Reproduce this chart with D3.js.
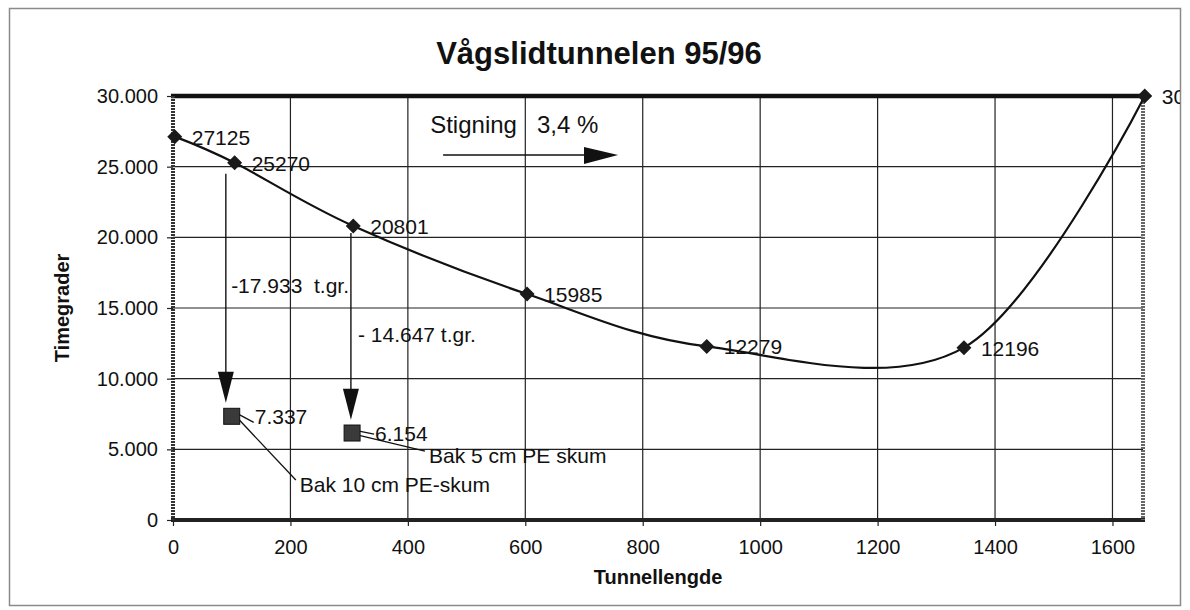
<!DOCTYPE html>
<html>
<head>
<meta charset="utf-8">
<script src="https://cdnjs.cloudflare.com/ajax/libs/d3/7.8.5/d3.min.js"></script>
<style>
  body { margin: 0; background: #fff; }
  text { font-family: "Liberation Sans", Arial, sans-serif; fill: #111; }
</style>
</head>
<body>
<div id="chart"></div>
<script>
// measured points along the tunnel
const distance = [3, 105, 307, 603, 909, 1347, 1655];
const degreeHours = [27125, 25270, 20801, 15985, 12279, 12196, 30000];

// points behind PE foam insulation
const insulatedDistance = [100, 305];
const insulatedHours = [7337, 6154];
const insulationLabels = ["Bak 10 cm PE-skum", "Bak 5 cm PE skum"];
const insulationLabelAt = [[216, 1980], [436, 4030]];

// reduction arrows
const reductionX = [90, 303];
const reductionFrom = [24500, 20300];
const reductionTo = [8300, 7100];
const reductionLabels = ["-17.933  t.gr.", "- 14.647 t.gr."];
const reductionLabelAt = [[99, 16070], [315, 12600]];

const xTicks = [0, 200, 400, 600, 800, 1000, 1200, 1400, 1600];
const yTicks = [0, 5000, 10000, 15000, 20000, 25000, 30000];

const W = 1190, H = 610;
const M = { left: 173, right: 1143, top: 96, bottom: 520 };

const nb = d3.formatLocale({ decimal: ",", thousands: ".", grouping: [3], currency: ["", " kr"] });
const fmt = nb.format(",");

const svg = d3.select('#chart').append('svg')
  .attr('width', W).attr('height', H);

svg.append('clipPath').attr('id', 'frameclip')
  .append('rect').attr('x', 0).attr('y', 0).attr('width', 1180).attr('height', H);

// outer frame
svg.append('rect')
  .attr('x', 9.5).attr('y', 8.5).attr('width', 1171).attr('height', 597)
  .attr('fill', 'none').attr('stroke', '#8a8a8a').attr('stroke-width', 1.5);

const x = d3.scaleLinear().domain([0, 1652]).range([M.left, M.right]);
const y = d3.scaleLinear().domain([0, 30000]).range([M.bottom, M.top]);

// gridlines
svg.append('g').selectAll('line').data(xTicks.slice(1)).enter().append('line')
  .attr('x1', d => x(d)).attr('x2', d => x(d))
  .attr('y1', M.top).attr('y2', M.bottom)
  .attr('stroke', '#222').attr('stroke-width', 1.2);
svg.append('g').selectAll('line').data(yTicks.slice(1, -1)).enter().append('line')
  .attr('x1', M.left).attr('x2', M.right)
  .attr('y1', d => y(d)).attr('y2', d => y(d))
  .attr('stroke', '#222').attr('stroke-width', 1.2);

// axes
const yAxis = svg.append('g')
  .attr('transform', `translate(${M.left},0)`)
  .call(d3.axisLeft(y).tickValues(yTicks).tickFormat(fmt).tickSize(6).tickPadding(9));
const xAxis = svg.append('g')
  .attr('transform', `translate(0,${M.bottom})`)
  .call(d3.axisBottom(x).tickValues(xTicks).tickFormat(d3.format('d')).tickSize(6).tickPadding(14));
[xAxis, yAxis].forEach(a => {
  a.select('.domain').remove();
  a.selectAll('.tick line').attr('stroke', '#222').attr('stroke-width', 1.2);
  a.selectAll('text').attr('font-size', '20px').attr('fill', '#111');
});

// plot border (heavy, as in the scan)
svg.append('line').attr('x1', M.left - 2).attr('x2', M.right + 2).attr('y1', M.top).attr('y2', M.top)
  .attr('stroke', '#111').attr('stroke-width', 4.5);
svg.append('line').attr('x1', M.left - 2).attr('x2', M.right + 2).attr('y1', M.bottom).attr('y2', M.bottom)
  .attr('stroke', '#222').attr('stroke-width', 4);
svg.append('line').attr('x1', M.left).attr('x2', M.left).attr('y1', M.top).attr('y2', M.bottom)
  .attr('stroke', '#333').attr('stroke-width', 4).attr('stroke-dasharray', '2,1');
svg.append('line').attr('x1', M.right).attr('x2', M.right).attr('y1', M.top).attr('y2', M.bottom)
  .attr('stroke', '#666').attr('stroke-width', 4).attr('stroke-dasharray', '2,1');

// smoothed series
const pts = distance.map((d, i) => [d, degreeHours[i]]);
const line = d3.line().x(d => x(d[0])).y(d => y(d[1])).curve(d3.curveCatmullRom.alpha(0));
svg.append('path').datum(pts)
  .attr('d', line).attr('fill', 'none').attr('stroke', '#111').attr('stroke-width', 2.2);

svg.append('g').selectAll('path').data(pts).enter().append('path')
  .attr('d', 'M0,-7.5L7.5,0L0,7.5L-7.5,0Z')
  .attr('transform', d => `translate(${x(d[0])},${y(d[1])})`)
  .attr('fill', '#1a1a1a');

svg.append('g').attr('clip-path', 'url(#frameclip)')
  .selectAll('text').data(pts).enter().append('text')
  .attr('x', d => x(d[0]) + 17).attr('y', d => y(d[1]) + 8)
  .attr('font-size', '21px')
  .text(d => d[1]);

// reduction arrows
reductionX.forEach((rx, i) => {
  const px = x(rx), tip = y(reductionTo[i]);
  svg.append('line')
    .attr('x1', px).attr('x2', px).attr('y1', y(reductionFrom[i])).attr('y2', tip - 20)
    .attr('stroke', '#111').attr('stroke-width', 1.4);
  svg.append('path')
    .attr('d', `M${px - 8},${tip - 31}L${px + 8},${tip - 31}L${px},${tip}Z`)
    .attr('fill', '#111');
  svg.append('text')
    .attr('x', x(reductionLabelAt[i][0])).attr('y', y(reductionLabelAt[i][1]))
    .attr('font-size', '21px').style('white-space', 'pre')
    .text(reductionLabels[i]);
});

// insulated points with leader lines
insulatedDistance.forEach((d, i) => {
  const px = x(d), py = y(insulatedHours[i]);
  const lx = x(insulationLabelAt[i][0]), ly = y(insulationLabelAt[i][1]);
  svg.append('line')
    .attr('x1', px + 6).attr('y1', py + 2).attr('x2', lx - 4).attr('y2', ly - 12)
    .attr('stroke', '#111').attr('stroke-width', 1.3);
  svg.append('line')
    .attr('x1', px + 7).attr('y1', py - 2).attr('x2', px + 22).attr('y2', py + 6 - i * 5)
    .attr('stroke', '#111').attr('stroke-width', 1.3);
  svg.append('rect')
    .attr('x', px - 8).attr('y', py - 8).attr('width', 16).attr('height', 16)
    .attr('fill', '#3a3a3a').attr('stroke', '#111').attr('stroke-width', 1);
  svg.append('text')
    .attr('x', px + 23).attr('y', py + 8)
    .attr('font-size', '21px')
    .text(fmt(insulatedHours[i]));
  svg.append('text')
    .attr('x', lx).attr('y', ly)
    .attr('font-size', '21px')
    .text(insulationLabels[i]);
});

// gradient annotation
svg.append('text')
  .attr('x', x(438)).attr('y', y(27390))
  .attr('font-size', '24px').style('white-space', 'pre')
  .text('Stigning   3,4 %');
svg.append('line')
  .attr('x1', x(460)).attr('x2', x(700)).attr('y1', y(25830)).attr('y2', y(25830))
  .attr('stroke', '#111').attr('stroke-width', 1.4);
svg.append('path')
  .attr('d', `M${x(700)},${y(25830) - 8}L${x(758)},${y(25830)}L${x(700)},${y(25830) + 9}Z`)
  .attr('fill', '#111');

// titles
svg.append('text')
  .attr('x', 599).attr('y', 64).attr('text-anchor', 'middle')
  .attr('font-size', '31px').attr('font-weight', 'bold')
  .text('Vågslidtunnelen 95/96');
svg.append('text')
  .attr('x', (M.left + M.right) / 2).attr('y', 584).attr('text-anchor', 'middle')
  .attr('font-size', '20px').attr('font-weight', 'bold')
  .text('Tunnellengde');
svg.append('text')
  .attr('transform', `translate(69,${(M.top + M.bottom) / 2}) rotate(-90)`)
  .attr('text-anchor', 'middle')
  .attr('font-size', '20px').attr('font-weight', 'bold')
  .text('Timegrader');
</script>
</body>
</html>
